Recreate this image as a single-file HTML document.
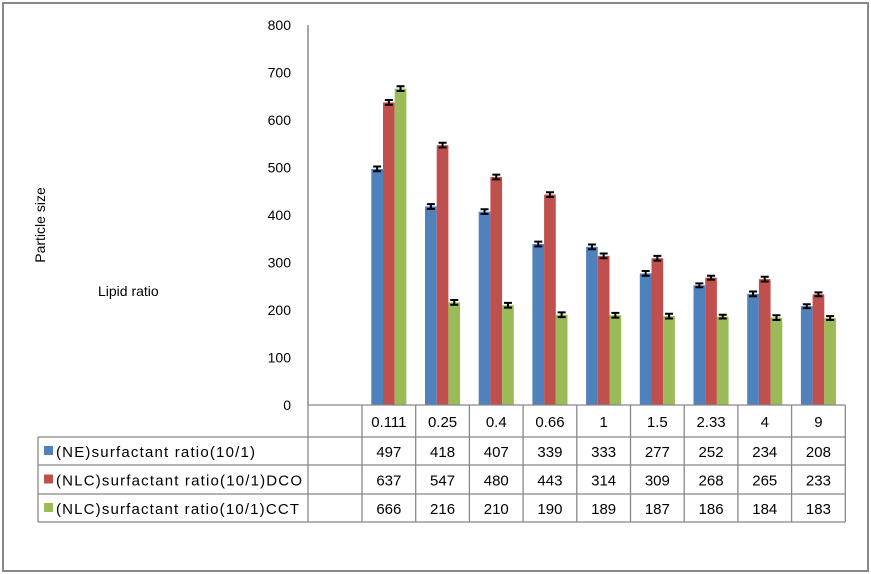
<!DOCTYPE html>
<html><head><meta charset="utf-8"><style>
body{margin:0;background:#fff}
svg{display:block;font-family:"Liberation Sans",Arial,sans-serif}
</style></head><body>
<svg id="c" width="871" height="574">
<rect x="3" y="3" width="865" height="568" fill="#fff" stroke="#888" stroke-width="2"/>
<g id="g"></g>
</svg>
<script>
const categories=["0.111","0.25","0.4","0.66","1","1.5","2.33","4","9"];
const seriesNames=["(NE)surfactant ratio(10/1)","(NLC)surfactant ratio(10/1)DCO","(NLC)surfactant ratio(10/1)CCT"];
const neValues=[497,418,407,339,333,277,252,234,208];
const dcoValues=[637,547,480,443,314,309,268,265,233];
const cctValues=[666,216,210,190,189,187,186,184,183];
const yTicks=[0,100,200,300,400,500,600,700,800];
const errorSize=[5,5,5,5,5,5,4,5,4];
const colors=["#4f81bd","#c0504d","#9bbb59"];
const legendLen=[199,246,243];
const series=[neValues,dcoValues,cctValues];
const NS="http://www.w3.org/2000/svg";
const g=document.getElementById('g');
const x0=362,colW=53.7,y0=405,yTop=25,yMax=800,barW=11.7;
const yS=v=>y0-(v/yMax)*(y0-yTop);
const xC=i=>x0+colW*(i+0.5);
function el(t,a,txt){const e=document.createElementNS(NS,t);for(const k in a)e.setAttribute(k,a[k]);if(txt!=null)e.textContent=txt;g.appendChild(e);return e;}
let ax=el('line',{x1:308,y1:yTop,x2:308,y2:y0,stroke:'#888','stroke-width':1.5});


yTicks.forEach(t=>{const e=el('text',{x:291,y:yS(t)+5,'text-anchor':'end','font-size':14},t);

});
let yt=el('text',{x:45,y:225,'font-size':14,'text-anchor':'middle',transform:'rotate(-90 45 225)'},'Particle size');


let xt=el('text',{x:98,y:296,'font-size':14},'Lipid ratio');


series.forEach((vals,s)=>{vals.forEach((v,i)=>{
 const bx=xC(i)-1.5*barW+s*barW;
 const b=el('rect',{x:bx,y:yS(v),width:barW,height:y0-yS(v),fill:colors[s]});
 
 
 const cx=bx+barW/2,e=errorSize[i];
 const eb=el('path',{d:`M${cx-4},${yS(v+e)}H${cx+4}M${cx},${yS(v+e)}V${yS(v-e)}M${cx-4},${yS(v-e)}H${cx+4}`,stroke:'#000','stroke-width':2,fill:'none'});
 
 
});});
const rows=[405,437,465,494,522];
const lc='#888';
function L(x1,y1,x2,y2){const l=el('line',{x1,y1,x2,y2,stroke:lc,'stroke-width':1.3});}
L(308,405,845,405);
rows.slice(1).forEach(y=>L(38,y,845,y));
L(38,437,38,522);L(308,405,308,522);
for(let i=0;i<=categories.length;i++)L(x0+colW*i,405,x0+colW*i,522);
categories.forEach((c,i)=>{const t=el('text',{x:xC(i),y:427,'text-anchor':'middle','font-size':15},c);

});
series.forEach((vals,s)=>{
 const ry=rows[s+1],rh=rows[s+2]-ry;
 const sw=el('rect',{x:44,y:ry+rh/2-5,width:9,height:9,fill:colors[s]});
 
 
 const lt=el('text',{x:56,y:ry+rh/2+6,'font-size':15,textLength:legendLen[s],lengthAdjust:'spacing'},seriesNames[s]);
 
 
 vals.forEach((v,i)=>{const t=el('text',{x:xC(i),y:ry+rh/2+6,'text-anchor':'middle','font-size':15},v);
 
 });
});
</script>
</body></html>
